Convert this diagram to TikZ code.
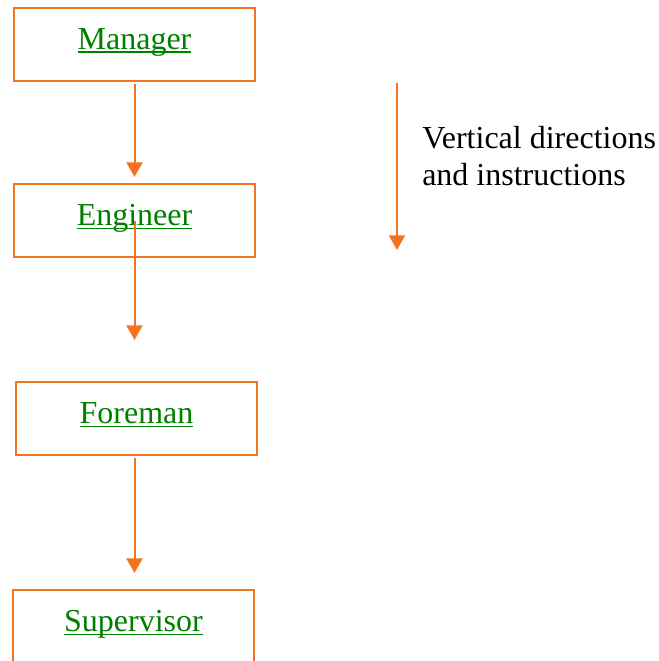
\documentclass[tikz,border=0pt]{standalone}
\usepackage{fontspec}
\setmainfont{Liberation Serif}
\usetikzlibrary{arrows.meta}
\definecolor{lineorange}{RGB}{245,115,30}
\definecolor{linkgreen}{RGB}{0,128,0}
\newlength{\ulinkwd}
\newcommand{\ulink}[1]{\settowidth{\ulinkwd}{#1}\rlap{#1}\rule[-2.6pt]{\ulinkwd}{1pt}}

\begin{document}
\begin{tikzpicture}[x=0.75pt,y=-0.75pt,
    post/.style={draw=lineorange, line width=1.5pt, minimum width=180.75pt, minimum height=54.75pt,
      inner sep=0pt, text height=16pt, text depth=8pt, font=\fontsize{24}{27}\selectfont, text=linkgreen},
    flow/.style={draw=lineorange, line width=1.5pt, -{Triangle[width=12pt,length=11pt]}}]
    \useasboundingbox (0,0) rectangle (659,661);
    \clip (0,0) rectangle (659,661);
    % chain of posts
    \node[post] (manager) at (134.5,44) {\ulink{Manager}};
    \node[post] (engineer) at (134.5,220.5) {\ulink{Engineer}};
    \node[post] (foreman) at (136.5,418.5) {\ulink{Foreman}};
    \node[post] (supervisor) at (133.5,626.5) {\ulink{Supervisor}};
    \coordinate (gap) at (134.5,340);
    \draw[flow, shorten <=2pt, shorten >=4.5pt] (manager.south) -- (engineer.north);
    \draw[flow] (engineer.center) -- (gap);
    \draw[flow, shorten <=1.5pt, shorten >=12pt] (foreman.south -| gap) -- (supervisor.north -| gap);
    % legend
    \coordinate (dirtop) at (397,83);
    \coordinate (dirend) at (397,250);
    \draw[flow] (dirtop) -- (dirend);
    \node[anchor=base west, align=left, inner sep=0pt, font=\fontsize{24}{27.5}\selectfont] (note) at (422,185.5) {Vertical directions\\and instructions};
\end{tikzpicture}
\end{document}
